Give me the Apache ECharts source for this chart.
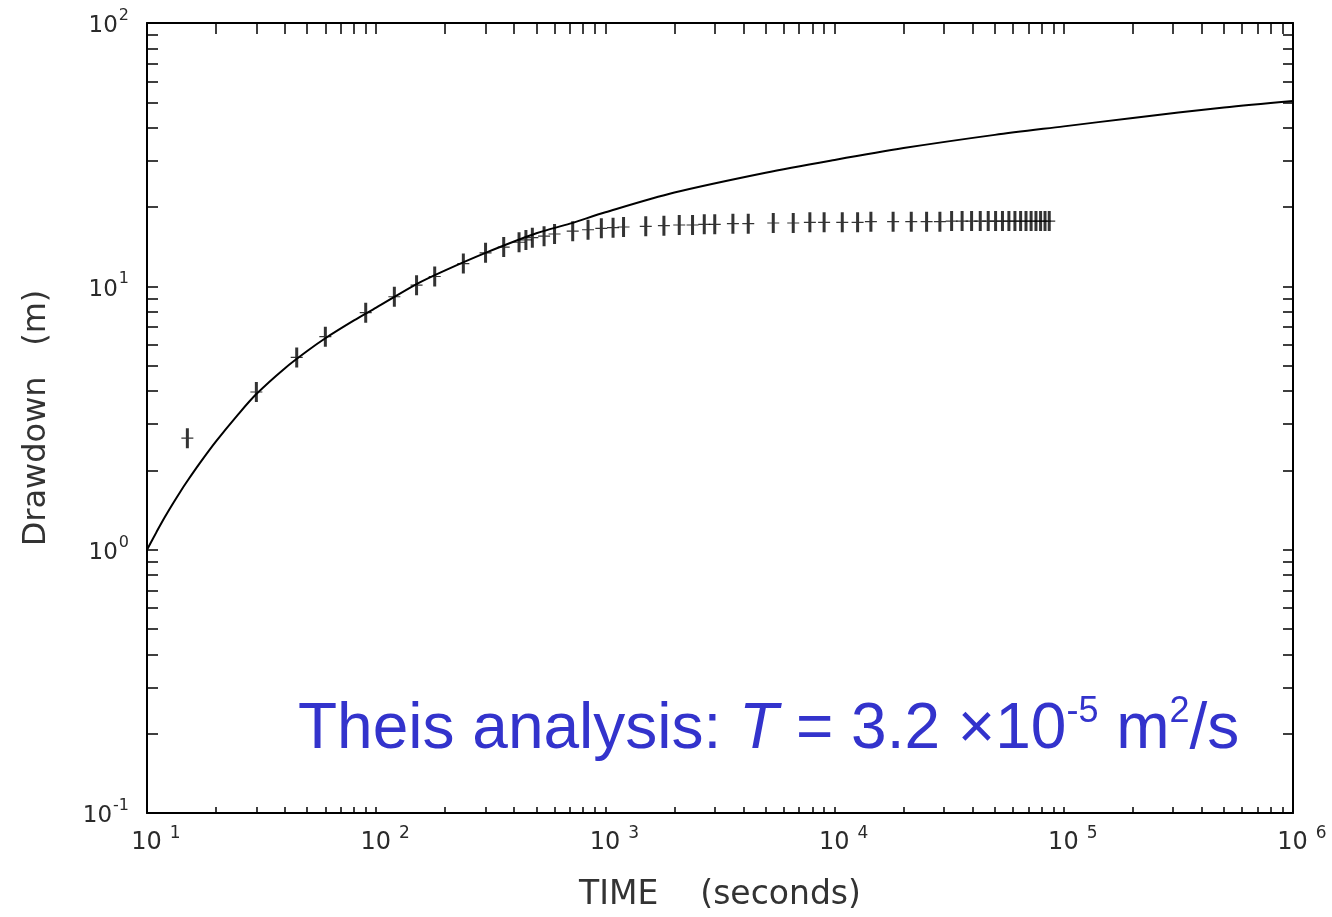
<!DOCTYPE html>
<html><head><meta charset="utf-8">
<script src="https://cdn.jsdelivr.net/npm/echarts@6/dist/echarts.min.js"></script>
<style>html,body{margin:0;padding:0;background:#fff}#c{width:1332px;height:917px}</style>
</head><body><div id="c"></div>
<script>
// ---- data ----
const xMajorTicks = [10, 100, 1000, 10000, 100000, 1000000];
const xExponents = ['1', '2', '3', '4', '5', '6'];
const yMajorTicks = [0.1, 1, 10, 100];
const yExponents = ['-1', '0', '1', '2'];

// observed drawdown (+ markers)
const obsTime = [15, 30, 45, 60, 90, 120, 150, 180, 240, 300, 360, 420, 450, 480, 540, 600,
  720, 840, 960, 1080, 1200, 1500, 1800, 2100, 2400, 2700, 3000, 3600, 4200, 5400, 6600, 7800,
  9000, 10800, 12600, 14400, 18000, 21600, 25200, 28800, 32400, 36000, 39600, 43200, 46800,
  50400, 54000, 57600, 61200, 64800, 68400, 72000, 75600, 79200, 82800, 86400];
const obsDrawdown = [2.65, 3.97, 5.37, 6.44, 7.94, 9.13, 10.1, 10.9, 12.2, 13.4, 14.1, 14.7, 15.0, 15.3, 15.5, 15.8,
  16.2, 16.4, 16.6, 16.7, 16.8, 16.9, 17.0, 17.1, 17.1, 17.2, 17.2, 17.3, 17.3, 17.4, 17.4, 17.5,
  17.5, 17.5, 17.5, 17.6, 17.6, 17.6, 17.6, 17.6, 17.7, 17.7, 17.7, 17.7, 17.7,
  17.7, 17.7, 17.7, 17.7, 17.7, 17.7, 17.7, 17.7, 17.7, 17.7, 17.7];

// Theis type curve (solid line)
const curveTime = [10, 11, 12, 13, 14, 15, 17, 20, 25, 30, 40, 50, 60, 80, 100, 150, 200, 300, 500, 700,
  1000, 2000, 5000, 10000, 20000, 50000, 100000, 200000, 500000, 1000000];
const curveDrawdown = [1.0, 1.166, 1.335, 1.50, 1.664, 1.822, 2.13, 2.576, 3.265, 3.90, 4.89, 5.68, 6.35, 7.42, 8.30, 10.2, 11.5, 13.4, 15.9, 17.3,
  19.1, 22.7, 27.0, 30.2, 33.5, 37.6, 40.5, 43.6, 47.8, 50.6];

// ---- chart ----
function allTicks(majors) {
  const out = [];
  for (let i = 0; i < majors.length - 1; i++) {
    for (let m = 1; m < 10; m++) out.push(majors[i] * m);
  }
  out.push(majors[majors.length - 1]);
  return out;
}
const xTicks = allTicks(xMajorTicks);
const yTicks = allTicks(yMajorTicks);

const labelColor = '#2a2a2a';
const labelFont = 'DejaVu Sans';

function expLabel(majors, exps) {
  return function (v) {
    let idx = 0, best = Infinity;
    majors.forEach((m, i) => { const d = Math.abs(Math.log10(m) - Math.log10(v)); if (d < best) { best = d; idx = i; } });
    return '{b|10}{s|' + exps[idx] + '}';
  };
}

const chart = echarts.init(document.getElementById('c'), null, { renderer: 'canvas' });
const axisLineStyle = { color: '#000', width: 2 };

chart.setOption({
  animation: false,
  backgroundColor: '#fff',
  grid: { left: 147, right: 39, top: 23, bottom: 104, containLabel: false },
  xAxis: [{
    type: 'log', logBase: 10, min: 10, max: 1000000, position: 'bottom',
    axisLine: { show: true, onZero: false, lineStyle: axisLineStyle },
    axisTick: { show: true, inside: true, length: 6, customValues: xTicks, lineStyle: { color: '#000', width: 1.5 } },
    axisLabel: {
      show: true, customValues: xMajorTicks, margin: 12,
      formatter: expLabel(xMajorTicks, xExponents),
      padding: [0, 0, 0, 18],
      rich: {
        b: { fontFamily: labelFont, fontSize: 24, color: labelColor, lineHeight: 30, verticalAlign: 'bottom' },
        s: { fontFamily: labelFont, fontSize: 17, color: labelColor, lineHeight: 30, verticalAlign: 'top', padding: [0, 0, 0, 8] }
      }
    },
    splitLine: { show: false },
    name: 'TIME    (seconds)', nameLocation: 'middle', nameGap: 66,
    nameTextStyle: { fontFamily: labelFont, fontSize: 33, color: '#333' }
  }, {
    type: 'log', logBase: 10, min: 10, max: 1000000, position: 'top',
    axisLine: { show: true, onZero: false, lineStyle: axisLineStyle },
    axisTick: { show: true, inside: true, length: 11, customValues: xTicks, lineStyle: { color: '#000', width: 1.5 } },
    axisLabel: { show: false },
    splitLine: { show: false }
  }],
  yAxis: [{
    type: 'log', logBase: 10, min: 0.1, max: 100, position: 'left',
    axisLine: { show: true, onZero: false, lineStyle: axisLineStyle },
    axisTick: { show: true, inside: true, length: 11, customValues: yTicks, lineStyle: { color: '#000', width: 1.5 } },
    axisLabel: {
      show: true, customValues: yMajorTicks, margin: 18,
      formatter: expLabel(yMajorTicks, yExponents),
      rich: {
        b: { fontFamily: labelFont, fontSize: 23, color: labelColor, lineHeight: 30, verticalAlign: 'bottom' },
        s: { fontFamily: labelFont, fontSize: 16, color: labelColor, lineHeight: 30, verticalAlign: 'top', padding: [0, 0, 0, 1] }
      }
    },
    splitLine: { show: false },
    name: 'Drawdown   (m)', nameLocation: 'middle', nameGap: 94, nameRotate: 90,
    nameTextStyle: { fontFamily: labelFont, fontSize: 32, color: '#333' }
  }, {
    type: 'log', logBase: 10, min: 0.1, max: 100, position: 'right',
    axisLine: { show: true, onZero: false, lineStyle: axisLineStyle },
    axisTick: { show: true, inside: true, length: 10, customValues: yTicks, lineStyle: { color: '#000', width: 1.5 } },
    axisLabel: { show: false },
    splitLine: { show: false }
  }],
  series: [{
    type: 'line',
    data: curveTime.map((t, i) => [t, curveDrawdown[i]]),
    smooth: 0.3, showSymbol: false, silent: true,
    lineStyle: { color: '#000', width: 2 }
  }, {
    type: 'scatter',
    data: obsTime.map((t, i) => [t, obsDrawdown[i]]),
    symbol: 'path://M-1.5,-10 L1.5,-10 L1.5,-0.6 L6,-0.6 L6,0.6 L1.5,0.6 L1.5,10 L-1.5,10 L-1.5,0.6 L-6,0.6 L-6,-0.6 L-1.5,-0.6 Z',
    symbolSize: [12, 20],
    itemStyle: { color: '#000' },
    z: 3
  }],
  graphic: [{
    type: 'text', left: 298, top: 686, z: 10,
    style: {
      text: '{a|Theis analysis: }{i|T}{a| = 3.2 ×10}{s|-5}{a| m}{s|2}{a|/s}',
      rich: {
        a: { fontFamily: 'Liberation Sans', fontSize: 64, fill: '#3333CC', lineHeight: 76, verticalAlign: 'bottom' },
        i: { fontFamily: 'Liberation Sans', fontSize: 64, fontStyle: 'italic', fill: '#3333CC', lineHeight: 76, verticalAlign: 'bottom' },
        s: { fontFamily: 'Liberation Sans', fontSize: 36, fill: '#3333CC', lineHeight: 76, verticalAlign: 'top', padding: [8, 0, 0, 0] }
      }
    }
  }]
});
</script></body></html>
